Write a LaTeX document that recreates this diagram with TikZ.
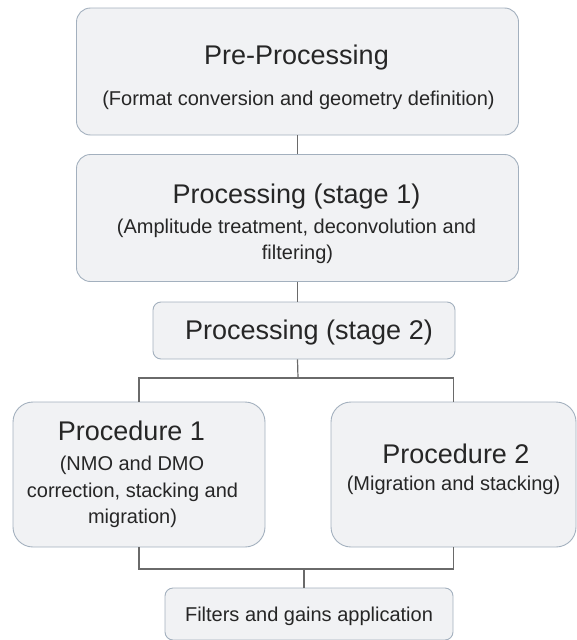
\documentclass[tikz,border=0pt]{standalone}
\usepackage{fontspec}
\setmainfont{Liberation Sans}
\usepackage{xcolor}
\definecolor{boxfill}{HTML}{F1F2F4}
\definecolor{boxline}{HTML}{A3B0BE}
\definecolor{linkgray}{HTML}{6A6A6A}
\definecolor{txtgray}{HTML}{262626}
\newcommand{\titlefont}{\fontsize{27}{30}\selectfont}
\newcommand{\subfont}{\fontsize{20}{24}\selectfont}

\begin{document}
\begin{tikzpicture}[x=1pt, y=-1pt,
  stepbox/.style={draw=boxline, fill=boxfill, line width=0.9pt, inner sep=0pt},
  link/.style={draw=linkgray, line width=1.2pt},
  title/.style={anchor=base, font=\titlefont, text=txtgray, inner sep=0pt},
  sub/.style={anchor=base, font=\subfont, text=txtgray, inner sep=0pt}]
  \useasboundingbox (0,0) rectangle (577,640);

  % boxes
  \node[stepbox, rounded corners=14pt, minimum width=442pt, minimum height=127pt] (pre) at (297.5,71.5) {};
  \node[stepbox, rounded corners=14pt, minimum width=442pt, minimum height=127pt] (stage1) at (297.5,218) {};
  \node[stepbox, rounded corners=8pt, minimum width=302pt, minimum height=57pt] (stage2) at (304,330.5) {};
  \node[stepbox, rounded corners=20pt, minimum width=252pt, minimum height=145pt] (proc1) at (139,474.5) {};
  \node[stepbox, rounded corners=20pt, minimum width=245pt, minimum height=145pt] (proc2) at (453.5,474.5) {};
  \node[stepbox, rounded corners=8pt, minimum width=288pt, minimum height=52pt] (filters) at (309,614) {};

  % texts
  \node[title] (pre-t) at (296.5,64) {Pre-Processing};
  \node[sub] (pre-s) at (298.5,105) {(Format conversion and geometry definition)};
  \node[title] (stage1-t) at (296.5,203) {Processing (stage 1)};
  \node[sub] (stage1-s1) at (296.5,233) {(Amplitude treatment, deconvolution and};
  \node[sub] (stage1-s2) at (297.5,259) {filtering)};
  \node[title] (stage2-t) at (309,339) {Processing (stage 2)};
  \node[title] (proc1-t) at (131.5,440) {Procedure 1};
  \node[sub] (proc1-s1) at (132,470) {(NMO and DMO};
  \node[sub] (proc1-s2) at (132.5,497) {correction, stacking and};
  \node[sub] (proc1-s3) at (132.5,523) {migration)};
  \node[title] (proc2-t) at (456,463) {Procedure 2};
  \node[sub] (proc2-s) at (453.5,490) {(Migration and stacking)};
  \node[sub] (filters-t) at (309,621) {Filters and gains application};

  % connectors
  \coordinate (fork) at (298,378);
  \coordinate (join) at (304,569);
  \draw[link] (pre) -- (stage1);
  \draw[link] (stage1.south) -- (stage1.south |- stage2.north);
  \draw[link] (stage1.south |- stage2.south) -- (fork);
  \draw[link] (proc1.north) |- (fork) -| (proc2.north);
  \draw[link] (proc1.south) |- (join) -| (proc2.south);
  \draw[link] (join) -- (join |- filters.north);
\end{tikzpicture}
\end{document}
